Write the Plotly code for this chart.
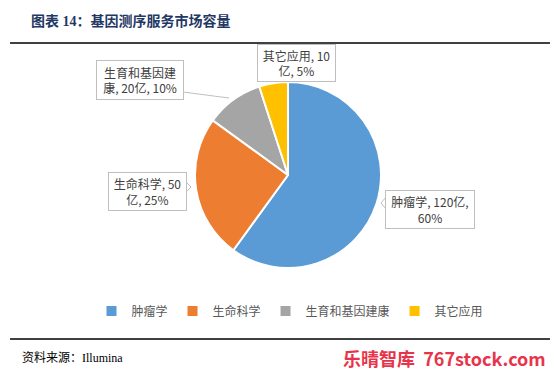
import plotly.graph_objects as go

categories = ["肿瘤学", "生命科学", "生育和基因建康", "其它应用"]
values = [120, 50, 20, 10]
label_texts = ["肿瘤学, 120亿,<br>60%", "生命科学, 50<br>亿, 25%", "生育和基因建<br>康, 20亿, 10%", "其它应用, 10<br>亿, 5%"]
colors = ["#5B9BD5", "#ED7D31", "#A5A5A5", "#FFC000"]

OFF = 8  # page body margin
W, H = 558 - OFF, 381 - OFF
def px(x):
    return (x - OFF) / W
def py(y):
    return 1 - (y - OFF) / H

cx, cy, r = 288, 175, 93

fig = go.Figure(go.Pie(
    labels=categories, values=values, sort=False, direction="clockwise", rotation=0,
    marker=dict(colors=colors, line=dict(color="white", width=2)),
    textinfo="none", hoverinfo="label+value+percent",
    domain=dict(x=[px(cx - r), px(cx + r)], y=[py(cy + r), py(cy - r)]),
))

lab_font = dict(family="Noto Sans CJK SC", size=12, color="#404040")
# (center x, center y, width, height) of each callout box in px
boxes = [(430, 209, 88, 37), (147, 191, 77, 37), (140, 80, 86, 38), (296, 63, 77, 36)]
for t, (bx, by, bw, bh) in zip(label_texts, boxes):
    fig.add_annotation(x=px(bx), y=py(by), xref="paper", yref="paper", text=t, showarrow=False,
                       font=lab_font, align="center", width=bw, height=bh, borderpad=0,
                       bordercolor="#BFBFBF", borderwidth=1, bgcolor="white",
                       xanchor="center", yanchor="middle")

def path(points):
    return "M " + " L ".join(f"{px(x)} {py(y)}" for x, y in points)

# callout pointers and leader line
fig.add_shape(type="path", xref="paper", yref="paper",
              path=path([(386, 197), (381, 203), (386, 209)]),
              line=dict(color="#BFBFBF", width=1), fillcolor="white")
fig.add_shape(type="path", xref="paper", yref="paper",
              path=path([(185, 181), (191, 187), (185, 193)]),
              line=dict(color="#BFBFBF", width=1), fillcolor="white")
fig.add_shape(type="line", xref="paper", yref="paper",
              x0=px(183), y0=py(92), x1=px(229), y1=py(98),
              line=dict(color="#BFBFBF", width=1))

# title and rules
fig.add_annotation(x=px(29), y=py(21), xref="paper", yref="paper", xanchor="left", yanchor="middle",
                   text="<b>图表 14：基因测序服务市场容量</b>", showarrow=False,
                   font=dict(family="Liberation Serif, Noto Sans CJK SC", size=14, color="#1F3864"))
fig.add_shape(type="line", xref="paper", yref="paper", x0=px(10), x1=px(552), y0=py(43), y1=py(43),
              line=dict(color="black", width=1.5))
fig.add_shape(type="line", xref="paper", yref="paper", x0=px(10), x1=px(558), y0=py(339), y1=py(339),
              line=dict(color="black", width=1.5))
fig.add_annotation(x=px(20), y=py(358), xref="paper", yref="paper", xanchor="left", yanchor="middle",
                   text="资料来源：Illumina", showarrow=False,
                   font=dict(family="Liberation Serif, Noto Sans CJK SC", size=12, color="black"))
fig.add_annotation(x=px(548), y=py(358), xref="paper", yref="paper", xanchor="right", yanchor="middle",
                   text="<b>乐晴智库  767stock.com</b>", showarrow=False,
                   font=dict(family="Noto Sans CJK SC", size=18, color="#E8344A"))

fig.update_layout(
    width=W, height=H, margin=dict(l=0, r=0, t=0, b=0),
    paper_bgcolor="white", plot_bgcolor="white",
    showlegend=True,
    legend=dict(orientation="h", x=px(290), y=py(311), xanchor="center", yanchor="middle",
                font=dict(family="Noto Sans CJK SC", size=12, color="#595959"),
                itemwidth=30, traceorder="normal", tracegroupgap=0),
)

fig.write_html("out.html")
